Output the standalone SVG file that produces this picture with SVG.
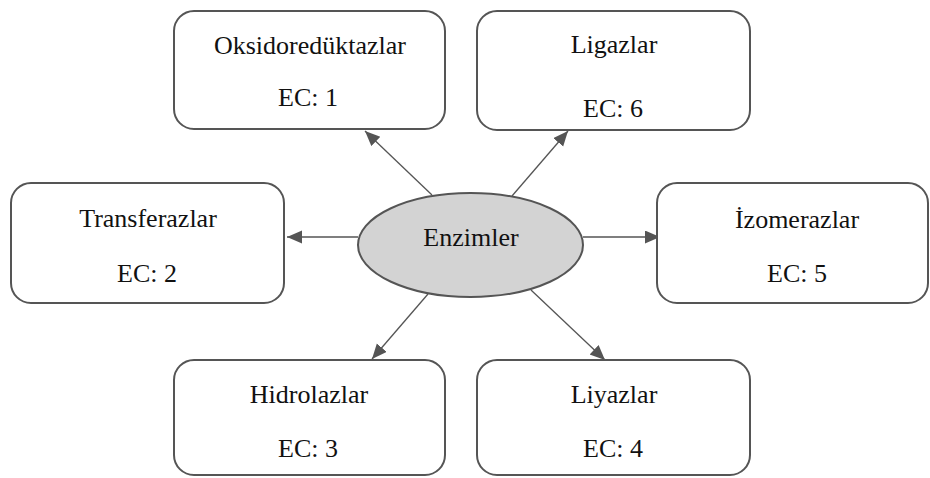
<svg xmlns="http://www.w3.org/2000/svg" width="930" height="478" viewBox="0 0 930 478">
<style>
.box{fill:#fff;stroke:#555;stroke-width:2}
.t{font-family:"Liberation Serif","Times New Roman",serif;font-size:26px;fill:#111;text-anchor:middle}
.c{stroke:#555;stroke-width:1.3;fill:none;marker-end:url(#ah)}
</style>
<defs>
<marker id="ah" markerUnits="userSpaceOnUse" markerWidth="16" markerHeight="14" refX="15" refY="6.5" orient="auto">
<path d="M0,0 L15,6.5 L0,13 z" fill="#555"/>
</marker>
</defs>
<rect width="930" height="478" fill="#fff"/>
<g id="connectors">
<line class="c" x1="358" y1="237" x2="287" y2="237"/>
<line class="c" x1="583" y1="237" x2="660" y2="237"/>
<line class="c" x1="432" y1="195" x2="365" y2="131"/>
<line class="c" x1="512" y1="196" x2="568" y2="131"/>
<line class="c" x1="428" y1="294" x2="372" y2="359"/>
<line class="c" x1="531" y1="290" x2="605" y2="360"/>
</g>
<g id="enzimler">
<ellipse cx="470.5" cy="245" rx="112.5" ry="52" fill="#d3d3d3" stroke="#555" stroke-width="2"/>
<text class="t" x="471" y="246">Enzimler</text>
</g>
<g id="oksidoreduktazlar">
<rect class="box" x="174" y="11" width="271" height="118" rx="20"/>
<text class="t" x="310" y="54">Oksidoredüktazlar</text>
<text class="t" x="308" y="106">EC: 1</text>
</g>
<g id="ligazlar">
<rect class="box" x="477" y="11" width="273" height="119" rx="20"/>
<text class="t" x="614" y="53">Ligazlar</text>
<text class="t" x="613" y="117">EC: 6</text>
</g>
<g id="transferazlar">
<rect class="box" x="11" y="183" width="273" height="120" rx="20"/>
<text class="t" x="148" y="227">Transferazlar</text>
<text class="t" x="147" y="282">EC: 2</text>
</g>
<g id="izomerazlar">
<rect class="box" x="657" y="183" width="271" height="120" rx="20"/>
<text class="t" x="797" y="228">İzomerazlar</text>
<text class="t" x="797" y="282">EC: 5</text>
</g>
<g id="hidrolazlar">
<rect class="box" x="174" y="360" width="271" height="115" rx="20"/>
<text class="t" x="309" y="403">Hidrolazlar</text>
<text class="t" x="308" y="457">EC: 3</text>
</g>
<g id="liyazlar">
<rect class="box" x="477" y="360" width="273" height="115" rx="20"/>
<text class="t" x="614" y="403">Liyazlar</text>
<text class="t" x="613" y="457">EC: 4</text>
</g>
</svg>
